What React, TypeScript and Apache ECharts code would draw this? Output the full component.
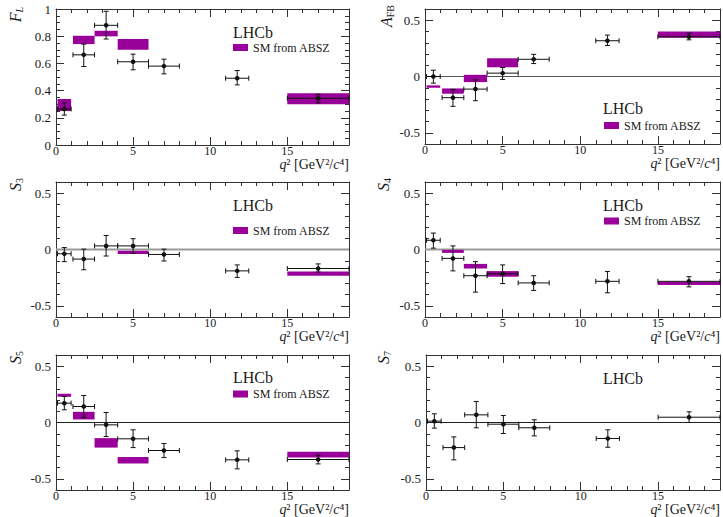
import React, { useEffect, useRef } from 'react';
import * as echarts from 'echarts';

// ---- data ----
const binLow = [0.1, 1.1, 2.5, 4, 6, 11, 15];
const binHigh = [0.98, 2.5, 4, 6, 8, 12.5, 19];
const binCenter = [0.54, 1.8, 3.25, 5, 7, 11.75, 17];

const flVal = [0.265, 0.663, 0.88, 0.612, 0.58, 0.491, 0.344];
const flLo = [0.22, 0.577, 0.779, 0.553, 0.523, 0.442, 0.31];
const flHi = [0.31, 0.742, 0.983, 0.668, 0.631, 0.548, 0.373];
const flSmLo = [0.25, 0.742, 0.799, 0.7, null, null, 0.3];
const flSmHi = [0.339, 0.803, 0.84, 0.78, null, null, 0.381];

const afbVal = [0.0, -0.188, -0.112, 0.03, 0.153, 0.318, 0.353];
const afbLo = [-0.059, -0.265, -0.215, -0.026, 0.115, 0.276, 0.326];
const afbHi = [0.056, -0.115, -0.03, 0.08, 0.197, 0.368, 0.385];
const afbSmLo = [-0.1, -0.153, -0.05, 0.082, null, null, 0.344];
const afbSmHi = [-0.079, -0.106, 0.015, 0.162, null, null, 0.4];

const s3Val = [-0.038, -0.085, 0.032, 0.032, -0.044, -0.19, -0.169];
const s3Lo = [-0.108, -0.18, -0.058, -0.035, -0.102, -0.248, -0.2];
const s3Hi = [0.017, 0.003, 0.125, 0.096, 0.003, -0.137, -0.128];
const s3SmLo = [null, null, null, -0.041, null, null, -0.233];
const s3SmHi = [null, null, null, -0.012, null, null, -0.195];

const s4Val = [0.082, -0.079, -0.233, -0.216, -0.297, -0.283, -0.283];
const s4Lo = [0.012, -0.19, -0.379, -0.303, -0.364, -0.385, -0.332];
const s4Hi = [0.146, 0.032, -0.108, -0.137, -0.233, -0.195, -0.242];
const s4SmLo = [null, -0.03, -0.169, -0.242, null, null, -0.315];
const s4SmHi = [null, -0.003, -0.128, -0.192, null, null, -0.286];

const s5Val = [0.172, 0.142, -0.021, -0.145, -0.249, -0.332, -0.329];
const s5Lo = [0.113, 0.045, -0.125, -0.223, -0.312, -0.412, -0.368];
const s5Hi = [0.231, 0.24, 0.089, -0.065, -0.187, -0.252, -0.291];
const s5SmLo = [0.228, 0.027, -0.223, -0.365, null, null, -0.312];
const s5SmHi = [0.255, 0.095, -0.139, -0.306, null, null, -0.261];

const s7Val = [0.012, -0.223, 0.068, -0.015, -0.047, -0.142, 0.047];
const s7Lo = [-0.05, -0.332, -0.047, -0.098, -0.119, -0.22, 0.0];
const s7Hi = [0.077, -0.128, 0.187, 0.062, 0.024, -0.065, 0.095];

const xTicksMajor = 5;
const xTicksMinor = 1;
const xMin = 0;
const xMax = 19;

const legendLabel = 'SM from ABSZ';
const experimentLabel = 'LHCb';
const xTitle = '{i|q}{n|² [GeV²/}{i|c}{n|⁴]}';

// ---- styling / layout ----
const FONT = 'Liberation Serif, DejaVu Serif, serif';
const INK = '#1a1a1a';
const FRAME = '#333';
const SM_COLOR = '#990099';

type Panel = {
  title: string;
  val: number[]; lo: number[]; hi: number[];
  smLo: (number | null)[] | null; smHi: (number | null)[] | null;
  yMin: number; yMax: number; major: number; minor: number;
  zero: { color: string; width: number } | null;
  legend: boolean;
};

const PANELS: Panel[] = [
  { title: '{i|F}{s|L}', val: flVal, lo: flLo, hi: flHi, smLo: flSmLo, smHi: flSmHi, yMin: 0, yMax: 1, major: 0.2, minor: 0.05, zero: null, legend: true },
  { title: '{i|A}{su|FB}', val: afbVal, lo: afbLo, hi: afbHi, smLo: afbSmLo, smHi: afbSmHi, yMin: -0.6, yMax: 0.6, major: 0.5, minor: 0.1, zero: { color: '#555', width: 1 }, legend: true },
  { title: '{i|S}{su|3}', val: s3Val, lo: s3Lo, hi: s3Hi, smLo: s3SmLo, smHi: s3SmHi, yMin: -0.6, yMax: 0.6, major: 0.5, minor: 0.1, zero: { color: '#9a9a9a', width: 2 }, legend: true },
  { title: '{i|S}{su|4}', val: s4Val, lo: s4Lo, hi: s4Hi, smLo: s4SmLo, smHi: s4SmHi, yMin: -0.6, yMax: 0.6, major: 0.5, minor: 0.1, zero: { color: '#9a9a9a', width: 2 }, legend: true },
  { title: '{i|S}{su|5}', val: s5Val, lo: s5Lo, hi: s5Hi, smLo: s5SmLo, smHi: s5SmHi, yMin: -0.6, yMax: 0.6, major: 0.5, minor: 0.1, zero: { color: '#222', width: 1 }, legend: true },
  { title: '{i|S}{su|7}', val: s7Val, lo: s7Lo, hi: s7Hi, smLo: null, smHi: null, yMin: -0.6, yMax: 0.6, major: 0.5, minor: 0.1, zero: { color: '#222', width: 1 }, legend: false },
];

const LAYOUT = [
  { left: 56, top: 9, width: 293, height: 136, yTitleX: 15, yTitleY: 7, lhcb: [233, 32], legend: [233, 41.5] },
  { left: 425, top: 9, width: 295, height: 135, yTitleX: 386, yTitleY: 5, lhcb: [603, 108], legend: [604, 119.5] },
  { left: 56, top: 182, width: 293, height: 135, yTitleX: 15, yTitleY: 178, lhcb: [233, 205], legend: [233, 224.5] },
  { left: 425, top: 182, width: 295, height: 135, yTitleX: 383, yTitleY: 178, lhcb: [603, 205], legend: [604, 215] },
  { left: 56, top: 355, width: 293, height: 135, yTitleX: 15, yTitleY: 351, lhcb: [233, 377], legend: [233, 388] },
  { left: 426, top: 355, width: 294, height: 135, yTitleX: 383, yTitleY: 351, lhcb: [603, 378], legend: null as number[] | null },
];

const tickStyle = { color: FRAME, width: 1 };

function fmt(v: number, step: number): string {
  const r = Math.round(v * 100) / 100;
  const k = r / step;
  if (Math.abs(k - Math.round(k)) > 1e-6) return '';
  return String(r);
}

function buildXAxes(gi: number) {
  const base = {
    gridIndex: gi, type: 'value', min: xMin, max: xMax,
    splitLine: { show: false },
  };
  return [
    { ...base, position: 'bottom', interval: xTicksMajor,
      axisLine: { show: true, onZero: false, lineStyle: { color: FRAME, width: 1 } },
      axisTick: { show: true, inside: true, length: 8, lineStyle: tickStyle },
      axisLabel: { show: true, margin: 0, fontFamily: FONT, fontSize: 12, color: INK,
        formatter: (v: number) => (v >= xMax ? '' : String(v)) } },
    { ...base, position: 'bottom', interval: xTicksMinor,
      axisLine: { show: false, onZero: false },
      axisTick: { show: true, inside: true, length: 4, lineStyle: tickStyle },
      axisLabel: { show: false } },
    { ...base, position: 'top', interval: xTicksMajor,
      axisLine: { show: true, onZero: false, lineStyle: { color: FRAME, width: 1 } },
      axisTick: { show: true, inside: true, length: 8, lineStyle: tickStyle },
      axisLabel: { show: false } },
    { ...base, position: 'top', interval: xTicksMinor,
      axisLine: { show: false, onZero: false },
      axisTick: { show: true, inside: true, length: 4, lineStyle: tickStyle },
      axisLabel: { show: false } },
  ];
}

function buildYAxes(gi: number, p: Panel) {
  const base = { gridIndex: gi, type: 'value', min: p.yMin, max: p.yMax, splitLine: { show: false } };
  const majorSpec = p.yMin % p.major === 0
    ? { interval: p.major }
    : { minInterval: p.major, maxInterval: p.major };
  const out: any[] = [];
  for (const pos of ['left', 'right']) {
    out.push({ ...base, ...majorSpec, position: pos,
      axisLine: { show: true, onZero: false, lineStyle: { color: FRAME, width: 1 } },
      axisTick: { show: true, inside: true, length: 8, lineStyle: tickStyle },
      axisLabel: pos === 'left'
        ? { show: true, margin: 5, fontFamily: FONT, fontSize: 13, color: INK, formatter: (v: number) => fmt(v, p.major) }
        : { show: false } });
    out.push({ ...base, position: pos, interval: p.minor,
      axisLine: { show: false, onZero: false },
      axisTick: { show: true, inside: true, length: 4, lineStyle: tickStyle },
      axisLabel: { show: false } });
  }
  return out;
}

function errRender(params: any, api: any) {
  const x = api.value(0), y = api.value(1);
  const xl = api.value(2), xh = api.value(3);
  const yl = api.value(4), yh = api.value(5);
  const c = api.coord([x, y]);
  const a = api.coord([xl, y]);
  const b = api.coord([xh, y]);
  const d = api.coord([x, yl]);
  const e = api.coord([x, yh]);
  const st = { stroke: '#111', lineWidth: 1 };
  const cap = 2.5;
  return {
    type: 'group',
    children: [
      { type: 'line', shape: { x1: a[0], y1: c[1], x2: b[0], y2: c[1] }, style: st },
      { type: 'line', shape: { x1: c[0], y1: d[1], x2: c[0], y2: e[1] }, style: st },
      { type: 'line', shape: { x1: a[0], y1: c[1] - cap, x2: a[0], y2: c[1] + cap }, style: st },
      { type: 'line', shape: { x1: b[0], y1: c[1] - cap, x2: b[0], y2: c[1] + cap }, style: st },
      { type: 'line', shape: { x1: c[0] - cap, y1: d[1], x2: c[0] + cap, y2: d[1] }, style: st },
      { type: 'line', shape: { x1: c[0] - cap, y1: e[1], x2: c[0] + cap, y2: e[1] }, style: st },
      { type: 'circle', shape: { cx: c[0], cy: c[1], r: 2.3 }, style: { fill: '#111' } },
    ],
  };
}

function smRender(params: any, api: any) {
  const p0 = api.coord([api.value(0), api.value(3)]);
  const p1 = api.coord([api.value(1), api.value(2)]);
  return {
    type: 'rect',
    shape: { x: p0[0], y: p0[1], width: p1[0] - p0[0], height: p1[1] - p0[1] },
    style: { fill: SM_COLOR },
  };
}

function buildOption() {
  const grid: any[] = [];
  const xAxis: any[] = [];
  const yAxis: any[] = [];
  const series: any[] = [];
  const legend: any[] = [];
  const graphic: any[] = [];

  PANELS.forEach((p, gi) => {
    const L = LAYOUT[gi];
    grid.push({ left: L.left, top: L.top, width: L.width, height: L.height, containLabel: false, outerBoundsMode: 'none' });
    xAxis.push(...buildXAxes(gi));
    yAxis.push(...buildYAxes(gi, p));
    const xi = gi * 4;
    const yi = gi * 4;

    if (p.zero) {
      series.push({
        type: 'line', name: 'zero', xAxisIndex: xi, yAxisIndex: yi, silent: true,
        showSymbol: false, symbol: 'none', z: 1,
        lineStyle: { color: p.zero.color, width: p.zero.width },
        data: [[xMin, 0], [xMax, 0]],
      });
    }

    if (p.smLo && p.smHi) {
      const smData: number[][] = [];
      for (let i = 0; i < binLow.length; i++) {
        const lo = p.smLo[i], hi = p.smHi[i];
        if (lo != null && hi != null) smData.push([binLow[i], binHigh[i], lo, hi]);
      }
      series.push({
        type: 'custom', name: legendLabel, xAxisIndex: xi, yAxisIndex: yi, z: 2,
        renderItem: smRender, itemStyle: { color: SM_COLOR },
        encode: { x: [0, 1], y: [2, 3] },
        data: smData,
      });
    }

    const errData = binCenter.map((x, i) => [x, p.val[i], binLow[i], binHigh[i], p.lo[i], p.hi[i]]);
    series.push({
      type: 'custom', name: 'data', xAxisIndex: xi, yAxisIndex: yi, z: 3,
      renderItem: errRender, itemStyle: { color: '#111' },
      encode: { x: [0, 2, 3], y: [1, 4, 5] },
      data: errData,
    });

    if (p.legend && L.legend) {
      legend.push({
        left: L.legend[0], top: L.legend[1], padding: 0, orient: 'horizontal',
        itemWidth: 15, itemHeight: 7, selectedMode: false,
        data: [{ name: legendLabel, icon: 'rect' }],
        textStyle: { fontFamily: FONT, fontSize: 12, color: INK },
      });
    }

    graphic.push({
      type: 'text', x: L.lhcb[0], y: L.lhcb[1], silent: true,
      style: { text: experimentLabel, fontFamily: FONT, fontSize: 16, fill: INK, align: 'left', verticalAlign: 'middle' },
    });

    graphic.push({
      type: 'text', x: L.left + L.width, y: L.top + L.height + 19, silent: true,
      style: {
        text: xTitle, align: 'right', verticalAlign: 'middle', fill: INK,
        rich: {
          i: { fontFamily: FONT, fontSize: 14, fontStyle: 'italic', fill: INK, color: INK },
          n: { fontFamily: FONT, fontSize: 14, fill: INK, color: INK },
        },
      },
    });

    graphic.push({
      type: 'text', x: L.yTitleX, y: L.yTitleY, rotation: Math.PI / 2, silent: true,
      style: {
        text: p.title, align: 'right', verticalAlign: 'middle', fill: INK,
        rich: {
          i: { fontFamily: FONT, fontSize: 16, fontStyle: 'italic', lineHeight: 18, fill: INK, color: INK },
          s: { fontFamily: FONT, fontSize: 10, fontStyle: 'italic', lineHeight: 10, verticalAlign: 'bottom', fill: INK, color: INK },
          su: { fontFamily: FONT, fontSize: 10, lineHeight: 10, verticalAlign: 'bottom', fill: INK, color: INK },
        },
      },
    });
  });

  return {
    animation: false,
    backgroundColor: '#ffffff',
    textStyle: { fontFamily: FONT },
    grid, xAxis, yAxis, series, legend, graphic,
  };
}

export default function App() {
  const ref = useRef<HTMLDivElement>(null);
  useEffect(() => {
    const chart = echarts.init(ref.current!, null, { renderer: 'svg' });
    chart.setOption(buildOption() as any);
    return () => chart.dispose();
  }, []);
  return (
    <div
      ref={ref}
      style={{ position: 'fixed', left: 0, top: 0, width: 723, height: 517, background: '#fff' }}
    />
  );
}
